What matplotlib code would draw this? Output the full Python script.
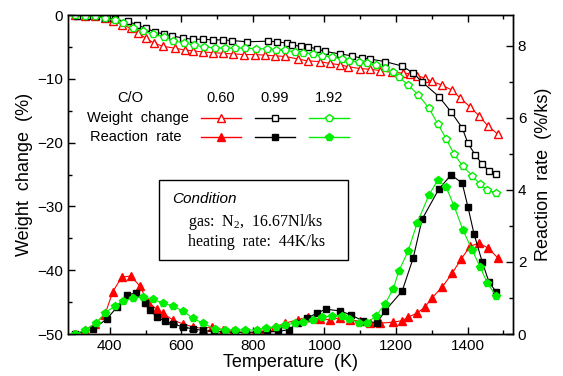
import numpy as np
import matplotlib.pyplot as plt
from matplotlib.ticker import MultipleLocator

plt.rcParams['font.family'] = ['Liberation Sans', 'DejaVu Sans']
plt.rcParams['mathtext.fontset'] = 'custom'
plt.rcParams['mathtext.rm'] = 'Liberation Serif'

# Weight change (%), left axis
t_w060 = [302, 330, 358, 386, 408, 433, 459, 478, 500, 523, 548, 582, 610, 632, 660, 688,
          715, 745, 775, 805, 835, 862, 890, 926, 954, 987, 1015, 1043, 1066, 1099, 1127,
          1155, 1188, 1220, 1239, 1259, 1281, 1300, 1329, 1357, 1379, 1407, 1432, 1457, 1485]
w060 = [0.0, -0.1, -0.2, -0.4, -0.9, -1.5, -2.1, -2.8, -3.6, -4.4, -4.9, -5.2, -5.5, -5.6,
        -5.8, -5.9, -6.0, -6.1, -6.2, -6.2, -6.3, -6.4, -6.5, -6.9, -7.2, -7.3, -7.6, -7.8,
        -8.1, -8.4, -8.5, -8.7, -9.0, -9.1, -9.2, -9.5, -9.9, -10.4, -11.0, -11.8, -13.0,
        -14.4, -15.8, -17.4, -18.7]

t_w099 = [308, 335, 360, 386, 414, 450, 475, 500, 525, 550, 575, 604, 632, 660, 688, 716,
          741, 783, 842, 867, 895, 909, 934, 954, 979, 1001, 1043, 1077, 1105, 1127, 1169,
          1217, 1248, 1273, 1320, 1354, 1385, 1401, 1421, 1441, 1460, 1480]
w099 = [-0.1, -0.1, -0.2, -0.4, -0.7, -1.0, -1.5, -2.1, -2.6, -3.0, -3.3, -3.6, -3.8, -3.8,
        -3.9, -3.9, -4.0, -4.2, -4.1, -4.2, -4.4, -4.7, -4.9, -5.0, -5.3, -5.7, -6.1, -6.4,
        -6.8, -6.9, -7.3, -8.0, -9.1, -10.5, -12.8, -15.2, -17.7, -20.1, -21.9, -23.4,
        -24.4, -24.9]

t_w192 = [302, 330, 358, 386, 414, 437, 464, 492, 520, 551, 576, 607, 635, 663, 694, 722,
          750, 778, 808, 839, 864, 890, 917, 940, 968, 993, 1021, 1049, 1069, 1096, 1119,
          1144, 1169, 1192, 1208, 1234, 1262, 1292, 1317, 1340, 1362, 1387, 1413, 1435,
          1455, 1480]
w192 = [0.0, -0.1, -0.2, -0.5, -0.8, -1.3, -2.0, -2.5, -3.0, -3.4, -4.0, -4.4, -4.7, -5.0,
        -5.2, -5.2, -5.2, -5.2, -5.3, -5.3, -5.5, -5.5, -5.8, -5.9, -6.1, -6.4, -6.6, -6.9,
        -7.2, -7.4, -7.6, -7.8, -8.3, -8.9, -9.7, -11.0, -12.5, -14.6, -17.1, -19.4, -21.8,
        -23.7, -25.2, -26.5, -27.4, -27.9]

# Reaction rate (%/ks), right axis
t_r060 = [302, 330, 358, 386, 408, 433, 459, 484, 506, 531, 548, 576, 604, 632, 660, 685,
          715, 745, 775, 805, 835, 862, 890, 926, 954, 987, 1015, 1043, 1070, 1100, 1127,
          1155, 1192, 1217, 1234, 1259, 1281, 1300, 1329, 1357, 1382, 1407, 1432, 1457, 1485]
r060 = [0.0, 0.1, 0.28, 0.53, 1.17, 1.58, 1.61, 1.33, 0.89, 0.69, 0.58, 0.39, 0.28, 0.2,
        0.15, 0.2, 0.12, 0.08, 0.03, 0.03, 0.1, 0.2, 0.3, 0.4, 0.47, 0.42, 0.4, 0.45, 0.4,
        0.35, 0.3, 0.3, 0.33, 0.37, 0.47, 0.58, 0.75, 1.0, 1.3, 1.69, 2.08, 2.44, 2.52,
        2.39, 2.11]

t_r099 = [302, 352, 392, 420, 447, 473, 498, 512, 531, 554, 576, 604, 632, 660, 690, 720,
          750, 780, 810, 840, 870, 900, 925, 951, 979, 1004, 1043, 1074, 1108, 1147, 1169,
          1217, 1248, 1273, 1320, 1354, 1385, 1401, 1418, 1441, 1460, 1480]
r099 = [0.0, 0.13, 0.42, 0.75, 1.08, 1.14, 0.86, 0.67, 0.47, 0.36, 0.28, 0.2, 0.14, 0.1,
        0.07, 0.06, 0.05, 0.05, 0.05, 0.06, 0.07, 0.12, 0.3, 0.44, 0.58, 0.69, 0.64, 0.53,
        0.36, 0.31, 0.64, 1.19, 2.11, 3.19, 4.03, 4.42, 4.19, 3.53, 2.78, 2.0, 1.44, 1.17]

t_r192 = [302, 330, 361, 386, 414, 437, 464, 492, 520, 548, 576, 604, 632, 660, 694, 722,
          750, 778, 811, 836, 864, 890, 917, 940, 968, 993, 1021, 1049, 1069, 1096, 1119,
          1144, 1169, 1192, 1208, 1234, 1259, 1292, 1317, 1340, 1362, 1387, 1413, 1435,
          1455, 1480]
r192 = [0.0, 0.1, 0.3, 0.58, 0.78, 0.92, 1.0, 1.03, 0.97, 0.86, 0.78, 0.64, 0.44, 0.3, 0.14,
        0.11, 0.11, 0.11, 0.11, 0.17, 0.2, 0.25, 0.3, 0.32, 0.39, 0.47, 0.5, 0.5, 0.42, 0.31,
        0.31, 0.5, 0.83, 1.25, 1.75, 2.31, 3.08, 3.86, 4.28, 4.08, 3.56, 2.89, 2.33, 1.86,
        1.42, 1.06]

ratios = ['0.60', '0.99', '1.92']
colors = ['#ff0000', '#000000', '#00ee00']
markers = ['^', 's', 'p']
msizes = [5.5, 5, 6]

fig = plt.figure(figsize=(5.63, 3.76), dpi=100)
ax = fig.add_axes([0.1208, 0.1117, 0.7904, 0.8484])
ax2 = ax.twinx()

weights = [(t_w060, w060), (t_w099, w099), (t_w192, w192)]
rates = [(t_r060, r060), (t_r099, r099), (t_r192, r192)]

for (t, w), c, m, ms in zip(weights, colors, markers, msizes):
    ax.plot(t, w, color=c, lw=0.8, marker=m, ms=ms, mfc='white', mec=c, mew=1.0)
for (t, r), c, m, ms in zip(rates, colors, markers, msizes):
    ax2.plot(t, r, color=c, lw=0.8, marker=m, ms=ms, mfc=c, mec=c, mew=1.0)

ax.set_xlim(283, 1527)
ax.set_ylim(-50, 0)
ax2.set_ylim(0, 8.86)

ax.xaxis.set_major_locator(MultipleLocator(200))
ax.xaxis.set_minor_locator(MultipleLocator(100))
ax.yaxis.set_major_locator(MultipleLocator(10))
ax.yaxis.set_minor_locator(MultipleLocator(5))
ax2.yaxis.set_major_locator(MultipleLocator(2))
ax2.yaxis.set_minor_locator(MultipleLocator(1))

ax.tick_params(which='both', direction='in', top=True, labelsize=11)
ax.tick_params(which='major', length=5, width=1)
ax.tick_params(which='minor', length=3, width=1)
ax2.tick_params(which='both', direction='in', labelsize=11)
ax2.tick_params(which='major', length=5, width=1)
ax2.tick_params(which='minor', length=3, width=1)

for a in (ax, ax2):
    for s in a.spines.values():
        s.set_linewidth(1.0)

ax.set_xlabel('Temperature  (K)', fontsize=13, labelpad=1)
ax.set_ylabel('Weight  change  (%)', fontsize=13, labelpad=3)
ax2.set_ylabel('Reaction  rate  (%/ks)', fontsize=13, labelpad=6)

# hand-made legend
def fx(px):
    return (px - 68) / 445.0

def fy(py):
    return 1 - (py - 15) / 319.0

ax.text(fx(130), fy(98), 'C/O', transform=ax.transAxes, ha='center', va='center', fontsize=10.5)
ax.text(fx(189), fy(118), 'Weight  change', transform=ax.transAxes, ha='right', va='center', fontsize=10.5)
ax.text(fx(181), fy(137), 'Reaction  rate', transform=ax.transAxes, ha='right', va='center', fontsize=10.5)
xc = [221, 275, 329]
for lab, c, m, ms, x in zip(ratios, colors, markers, msizes, xc):
    ax.text(fx(x), fy(98), lab, transform=ax.transAxes, ha='center', va='center', fontsize=10.5)
    ax.plot([fx(x - 20), fx(x + 20)], [fy(118)] * 2, transform=ax.transAxes, color=c, lw=1.0)
    ax.plot([fx(x)], [fy(118)], transform=ax.transAxes, marker=m, ms=ms, mfc='white', mec=c, mew=1.0)
    ax.plot([fx(x - 20), fx(x + 20)], [fy(137)] * 2, transform=ax.transAxes, color=c, lw=1.0)
    ax.plot([fx(x)], [fy(137)], transform=ax.transAxes, marker=m, ms=ms, mfc=c, mec=c, mew=1.0)

# condition box
box = plt.Rectangle((fx(159), fy(260)), fx(348) - fx(159), fy(180) - fy(260),
                    transform=ax.transAxes, fill=True, fc='white', ec='black', lw=1.0, zorder=5)
ax.add_patch(box)
ax.text(fx(172), fy(199), 'Condition', transform=ax.transAxes, va='center', fontsize=11,
        style='italic', zorder=6)
ax.text(fx(188), fy(222), 'gas:  N$_2$,  16.67Nl/ks', transform=ax.transAxes, va='center',
        fontsize=11.5, family='Liberation Serif', zorder=6)
ax.text(fx(188), fy(242), 'heating  rate:  44K/ks', transform=ax.transAxes, va='center',
        fontsize=11.5, family='Liberation Serif', zorder=6)

fig.savefig('out.png', dpi=100)
